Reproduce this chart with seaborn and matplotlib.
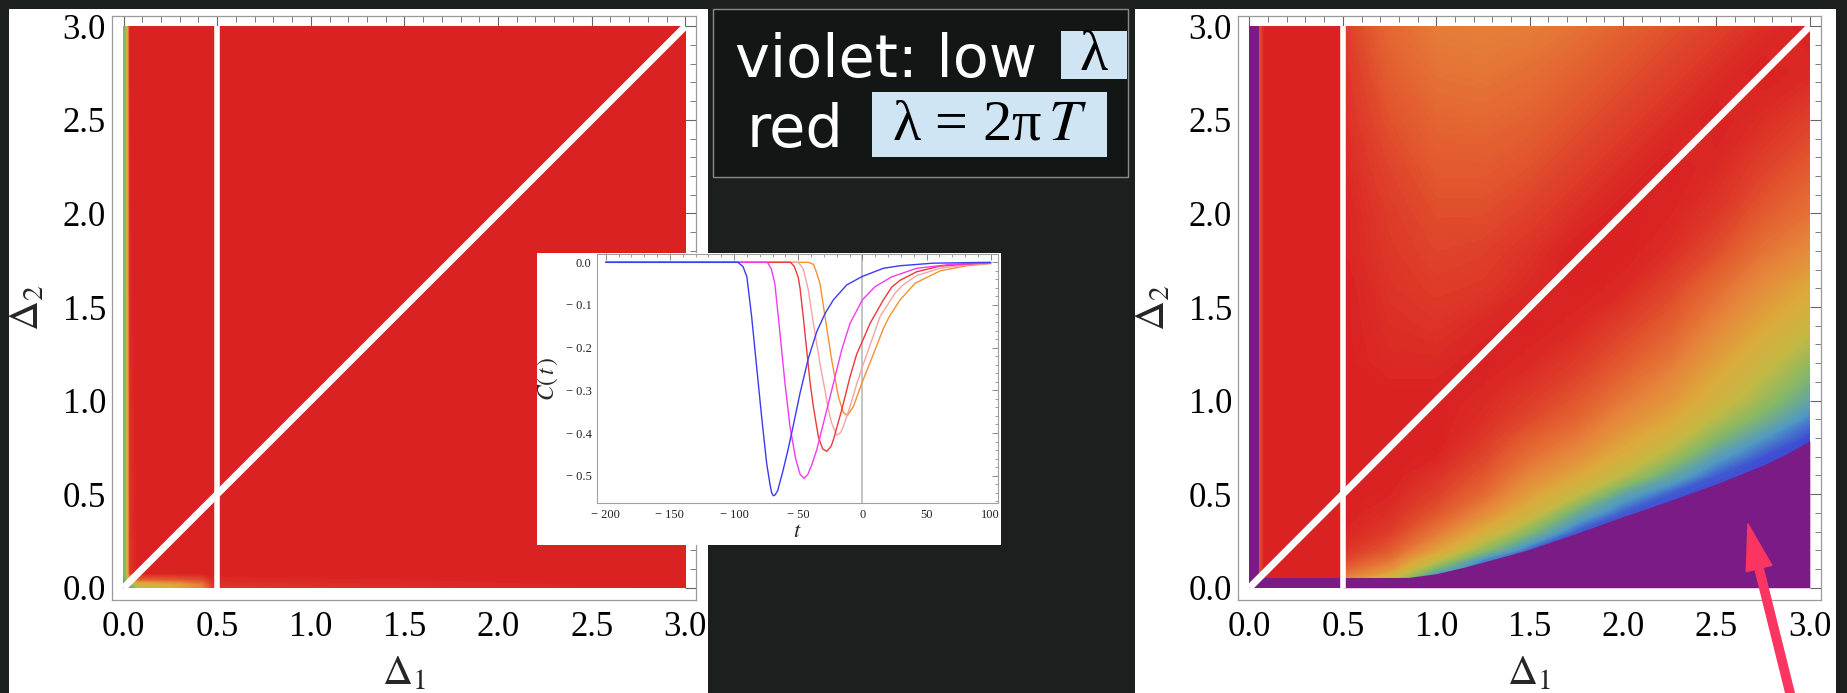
import numpy as np
import pandas as pd
import matplotlib
matplotlib.use("Agg")
import matplotlib.pyplot as plt
import matplotlib.transforms as mtransforms
import seaborn as sns
from matplotlib.colors import LinearSegmentedColormap, Normalize
from matplotlib.patches import Rectangle, FancyArrowPatch, ArrowStyle
from matplotlib.ticker import MultipleLocator, FormatStrFormatter, FixedLocator, FixedFormatter

# ------------------------------------------------------------------ data
axis_range = [0.0, 3.0]
diag_x = [0.0, 3.0]
diag_y = [0.0, 3.0]
vline_x = [0.5, 0.5]
vline_y = [0.0, 3.0]

# colour scale (value -> colour), value 1 = red (lambda = 2 pi T), low = violet/blue
scale_values = [-0.1, 0.0, 0.12, 0.3, 0.45, 0.6, 0.75, 0.88, 1.0]
scale_colors = ["#7b1c86", "#3c46d4", "#4f98c4", "#86b865", "#c2b944",
                "#dcaa3b", "#e6843a", "#e2572e", "#da2223"]

# left panel field (almost everywhere red)
left_x = [0.0, 0.014, 0.035, 0.08, 0.15, 0.3, 0.42, 0.48, 3.0]
left_y = [0.0, 0.02, 0.045, 0.08, 3.0]
left_v = [
    [-0.05, 0.00, 0.10, 0.45, 0.50, 0.62, 0.75, 0.95, 1.0],
    [0.00, 0.10, 0.30, 0.50, 0.55, 0.65, 0.78, 0.96, 1.0],
    [0.15, 0.30, 0.70, 0.85, 0.85, 0.88, 0.90, 0.98, 1.0],
    [0.28, 0.32, 0.95, 1.00, 1.00, 1.00, 1.00, 1.00, 1.0],
    [0.28, 0.32, 1.00, 1.00, 1.00, 1.00, 1.00, 1.00, 1.0],
]

# right panel field, region right of the Delta_1 = 0.5 line
right_x = [0.5, 0.75, 1.0, 1.25, 1.5, 1.75, 2.0, 2.25, 2.5, 2.75, 3.0]
right_y = [0.05, 0.1, 0.15, 0.2, 0.3, 0.4, 0.5, 0.6, 0.7, 0.8, 0.9, 1.0,
           1.2, 1.4, 1.6, 1.8, 2.0, 2.25, 2.5, 2.75, 3.0]
right_v = [
    [0.75, 0.50, 0.00, 0.00, 0.00, 0.00, 0.00, 0.00, 0.00, 0.00, 0.00],
    [0.85, 0.70, 0.25, 0.00, 0.00, 0.00, 0.00, 0.00, 0.00, 0.00, 0.00],
    [0.92, 0.80, 0.47, 0.10, 0.00, 0.00, 0.00, 0.00, 0.00, 0.00, 0.00],
    [0.96, 0.87, 0.64, 0.32, 0.03, 0.00, 0.00, 0.00, 0.00, 0.00, 0.00],
    [0.99, 0.94, 0.79, 0.58, 0.30, 0.03, 0.00, 0.00, 0.00, 0.00, 0.00],
    [1.00, 0.97, 0.88, 0.73, 0.53, 0.22, 0.03, 0.00, 0.00, 0.00, 0.00],
    [1.00, 0.99, 0.93, 0.83, 0.65, 0.46, 0.18, 0.03, 0.00, 0.00, 0.00],
    [1.00, 1.00, 0.96, 0.88, 0.74, 0.61, 0.43, 0.20, 0.03, 0.00, 0.00],
    [1.00, 1.00, 0.99, 0.92, 0.81, 0.71, 0.56, 0.38, 0.15, 0.02, 0.00],
    [1.00, 1.00, 1.00, 0.95, 0.86, 0.78, 0.65, 0.51, 0.29, 0.12, 0.00],
    [1.00, 1.00, 1.00, 0.97, 0.91, 0.84, 0.72, 0.61, 0.42, 0.25, 0.08],
    [1.00, 1.00, 1.00, 0.98, 0.94, 0.88, 0.78, 0.68, 0.52, 0.35, 0.18],
    [1.00, 0.98, 0.98, 1.00, 0.98, 0.94, 0.87, 0.78, 0.64, 0.49, 0.33],
    [1.00, 0.97, 0.96, 0.98, 1.00, 0.98, 0.93, 0.86, 0.74, 0.61, 0.48],
    [1.00, 0.96, 0.94, 0.95, 0.98, 1.00, 0.98, 0.92, 0.82, 0.71, 0.60],
    [0.99, 0.95, 0.92, 0.93, 0.96, 1.00, 1.00, 0.97, 0.90, 0.80, 0.72],
    [0.99, 0.94, 0.90, 0.90, 0.93, 0.97, 1.00, 0.99, 0.95, 0.87, 0.80],
    [0.98, 0.92, 0.87, 0.87, 0.89, 0.93, 0.97, 1.00, 0.98, 0.93, 0.87],
    [0.97, 0.89, 0.84, 0.83, 0.85, 0.89, 0.93, 0.97, 1.00, 0.97, 0.93],
    [0.96, 0.86, 0.80, 0.79, 0.81, 0.85, 0.89, 0.93, 0.97, 1.00, 0.98],
    [0.94, 0.83, 0.77, 0.76, 0.77, 0.80, 0.85, 0.89, 0.93, 0.97, 1.00],
]
# right panel red strip 0.05 < Delta_1 < 0.5
strip_x = [0.05, 0.08, 0.5]
strip_y = [0.053, 3.0]
strip_v = [[0.88, 1.0, 1.0],
           [0.88, 1.0, 1.0]]
# violet (low lambda) regions of the right panel
violet_strip_x = [0.0, 0.05]
violet_band_x = [0.0, 3.0]
violet_band_top = [0.053, 0.053]
boundary_x = [0.5, 0.85, 1.0, 1.15, 1.3, 1.5, 1.75, 2.0, 2.25, 2.5, 2.75, 2.875, 3.0]
boundary_y = [0.053, 0.055, 0.075, 0.11, 0.15, 0.205, 0.29, 0.38, 0.465, 0.555, 0.655, 0.715, 0.785]

# inset: C(t) curves
blue_t = [-200, -97, -93, -90, -86.3, -82.4, -78.5, -74.6, -72, -70.7, -69.4, -68, -66,
          -62, -58, -54.3, -48.6, -42.1, -35.6, -29.1, -22.6, -12.2, 0, 16.4, 29.4, 55, 100]
blue_c = [0, 0, -0.01, -0.034, -0.127, -0.245, -0.362, -0.471, -0.52, -0.54, -0.547, -0.545, -0.535,
          -0.49, -0.44, -0.389, -0.307, -0.225, -0.163, -0.12, -0.088, -0.053, -0.033, -0.014, -0.008, -0.002, 0.0]
magenta_t = [-200, -74, -71, -68.2, -64.2, -60.3, -56.4, -52, -48.5, -45.5, -42.5, -39.5,
             -35.6, -29.1, -22.6, -16.1, -9.6, 0, 9.9, 22.9, 42.4, 68.4, 100]
magenta_c = [0, 0, -0.015, -0.05, -0.166, -0.284, -0.385, -0.46, -0.497, -0.506, -0.497, -0.475,
             -0.44, -0.362, -0.284, -0.205, -0.143, -0.088, -0.057, -0.034, -0.014, -0.005, -0.001]
red_t = [-200, -56, -53, -50, -48.6, -46, -43.4, -40.8, -38.2, -34.3, -31, -27.8, -24.5, -22.6,
         -16.1, -9.6, -4.4, 0, 6, 16.4, 22.9, 29.4, 42.4, 60.6, 81.4, 100]
red_c = [0, 0, -0.01, -0.035, -0.06, -0.13, -0.205, -0.28, -0.338, -0.409, -0.437, -0.443, -0.432, -0.416,
         -0.346, -0.268, -0.215, -0.185, -0.143, -0.088, -0.058, -0.042, -0.022, -0.009, -0.004, -0.001]
pink_t = [-200, -50, -46, -42.1, -38.9, -35.6, -32.3, -29.1, -26.5, -23.9, -20, -17, -14.8,
          -9.6, -4.4, 0, 4.7, 13.8, 25.5, 32, 42.4, 60.6, 81.4, 100]
pink_c = [0, 0, -0.015, -0.065, -0.13, -0.19, -0.25, -0.3, -0.345, -0.377, -0.405, -0.399, -0.385,
          -0.338, -0.285, -0.245, -0.205, -0.127, -0.072, -0.052, -0.031, -0.014, -0.006, -0.002]
orange_t = [-200, -42, -38, -35.6, -33, -29.1, -23.9, -18.7, -14.8, -11.7, -7, 0, 6, 9.9,
            16.4, 21, 29.4, 41.1, 60.6, 81.4, 100]
orange_c = [0, 0, -0.005, -0.025, -0.05, -0.127, -0.229, -0.315, -0.352, -0.359, -0.338, -0.28, -0.235, -0.205,
            -0.155, -0.127, -0.088, -0.049, -0.02, -0.008, -0.003]
curve_names = ["blue", "magenta", "red", "pink", "orange"]
curve_colors = ["#3b3bf2", "#f23bf2", "#f03838", "#f5a3a3", "#f79030"]

inset_xticks = [-200, -150, -100, -50, 0, 50, 100]
inset_xticklabels = ["\u2212 200", "\u2212 150", "\u2212 100", "\u2212 50", "0", "50", "100"]
inset_yticks = [0.0, -0.1, -0.2, -0.3, -0.4, -0.5]
inset_yticklabels = ["0.0", "\u2212 0.1", "\u2212 0.2", "\u2212 0.3", "\u2212 0.4", "\u2212 0.5"]

# ------------------------------------------------------------------ style
sns.set_theme(style="white")
plt.rcParams["font.family"] = ["Liberation Serif", "DejaVu Serif"]
plt.rcParams["mathtext.fontset"] = "stix"

W, H = 1847, 693
BG = "#1b201f"
fig = plt.figure(figsize=(W / 100, H / 100), dpi=100, facecolor=BG)
tpx = mtransforms.Affine2D().scale(1, -1).translate(0, H)  # pixel coords, origin top-left


def fig_rect(x0, y0, x1, y1, **kw):
    r = Rectangle((x0, y0), x1 - x0, y1 - y0, transform=tpx, **kw)
    fig.add_artist(r)
    return r


def axes_box(x0, y0, x1, y1):
    return [x0 / W, 1 - y1 / H, (x1 - x0) / W, (y1 - y0) / H]


# white panels
fig_rect(9, 9, 708, 700, facecolor="white", edgecolor="none", zorder=-1)
fig_rect(1135, 9, 1836, 700, facecolor="white", edgecolor="none", zorder=-1)
# darker interior of the caption box
fig_rect(712.7, 9.3, 1128, 177, facecolor="#121615", edgecolor="none", zorder=-1)

cmap = LinearSegmentedColormap.from_list(
    "lam", [((v - scale_values[0]) / (scale_values[-1] - scale_values[0]), c)
            for v, c in zip(scale_values, scale_colors)])
norm = Normalize(vmin=scale_values[0], vmax=scale_values[-1])
levels = np.linspace(scale_values[0] - 0.001, scale_values[-1] + 0.001, 180)
VIOLET = scale_colors[0]


def style_main(ax):
    ax.set_xlim(-0.064, 3.06)
    ax.set_ylim(-0.064, 3.058)
    for axis in (ax.xaxis, ax.yaxis):
        axis.set_major_locator(MultipleLocator(0.5))
        axis.set_minor_locator(MultipleLocator(0.1))
        axis.set_major_formatter(FormatStrFormatter("%.1f"))
    ax.tick_params(which="both", direction="in", top=True, right=True,
                   color="#666666", labelsize=25, labelcolor="black")
    ax.tick_params(which="major", length=8, width=0.8)
    ax.tick_params(which="minor", length=4, width=0.6)
    ax.tick_params(axis="x", which="both", pad=8)
    ax.tick_params(axis="y", which="both", pad=4)
    for s in ax.spines.values():
        s.set_color("#9a9a9a")
        s.set_linewidth(0.9)
    ax.set_facecolor("white")
    ax.set_xlabel(r"$\Delta_1$", fontsize=30, labelpad=8)
    ax.set_ylabel(r"$\Delta_2$", fontsize=30, labelpad=11)
    ax.grid(False)


def guide_lines(ax):
    ax.plot(diag_x, diag_y, color="white", lw=5, solid_capstyle="butt", zorder=5)
    ax.plot(vline_x, vline_y, color="white", lw=4, solid_capstyle="butt", zorder=5)


# ---------------- left panel
axL = fig.add_axes(axes_box(111.6, 15.5, 696.5, 599.7), zorder=1)
axL.contourf(left_x, left_y, np.array(left_v), levels=levels, cmap=cmap, norm=norm,
             antialiased=False, zorder=1)
guide_lines(axL)
style_main(axL)

# ---------------- right panel
axR = fig.add_axes(axes_box(1237.5, 15.5, 1821, 599.7), zorder=1)
axR.contourf(right_x, right_y, np.array(right_v), levels=levels, cmap=cmap, norm=norm,
             antialiased=False, zorder=1)
axR.contourf(strip_x, strip_y, np.array(strip_v), levels=levels, cmap=cmap, norm=norm,
             antialiased=False, zorder=1)
axR.fill_between(violet_strip_x, axis_range[0], axis_range[1], color=VIOLET, lw=0, zorder=2)
axR.fill_between(violet_band_x, axis_range[0], violet_band_top, color=VIOLET, lw=0, zorder=2)
axR.fill_between(boundary_x, axis_range[0], boundary_y, color=VIOLET, lw=0, zorder=2)
guide_lines(axR)
style_main(axR)

# ---------------- inset
fig_rect(536.7, 253, 1000.7, 545, facecolor="white", edgecolor="none", zorder=2)
axI = fig.add_axes(axes_box(597, 254, 998, 503), zorder=3)
frames = []
for name, tt, cc in zip(curve_names,
                        [blue_t, magenta_t, red_t, pink_t, orange_t],
                        [blue_c, magenta_c, red_c, pink_c, orange_c]):
    frames.append(pd.DataFrame({"t": tt, "C": cc, "curve": name}))
df = pd.concat(frames, ignore_index=True)
axI.axvline(0, color="#c4c4c4", lw=1.4, zorder=0)
sns.lineplot(data=df, x="t", y="C", hue="curve", hue_order=curve_names[::-1],
             palette=dict(zip(curve_names, curve_colors)), estimator=None, sort=False,
             linewidth=1.0, legend=False, ax=axI)
axI.set_xlim(-206.8, 105.7)
axI.set_ylim(-0.564, 0.0195)
axI.xaxis.set_major_locator(FixedLocator(inset_xticks))
axI.xaxis.set_major_formatter(FixedFormatter(inset_xticklabels))
axI.yaxis.set_major_locator(FixedLocator(inset_yticks))
axI.yaxis.set_major_formatter(FixedFormatter(inset_yticklabels))
axI.xaxis.set_minor_locator(MultipleLocator(10))
axI.yaxis.set_minor_locator(MultipleLocator(0.02))
axI.tick_params(which="both", direction="in", top=True, right=True, color="#777777",
                labelsize=9, labelcolor="#222222", pad=4)
axI.tick_params(which="major", length=4, width=0.6)
axI.tick_params(which="minor", length=2, width=0.5)
for s in axI.spines.values():
    s.set_color("#a0a0a0")
    s.set_linewidth(0.8)
axI.set_facecolor("white")
axI.set_xlabel(r"$t$", fontsize=16, labelpad=2)
axI.set_ylabel(r"$C(\,t\,)$", fontsize=17, labelpad=4)
axI.grid(False)

# ---------------- legend-like text box
fig_rect(712.7, 9.3, 1128, 177, facecolor="none", edgecolor="#8a8a8a", lw=1.0, zorder=4)
fig_rect(1061, 31, 1127, 79, facecolor="#cfe5f4", edgecolor="none", zorder=4)
fig_rect(872, 92, 1107, 157, facecolor="#cfe5f4", edgecolor="none", zorder=4)
fig.text(735, 77, "violet: low", transform=tpx, fontsize=42.5, color="white",
         family="DejaVu Sans", ha="left", va="baseline", zorder=5)
fig.text(747, 147, "red", transform=tpx, fontsize=42.5, color="white",
         family="DejaVu Sans", ha="left", va="baseline", zorder=5)
fig.text(1094, 70, "\u03bb", transform=tpx, fontsize=42, color="black",
         ha="center", va="baseline", zorder=5)
fig.text(989.5, 139, "\u03bb = 2\u03c0$\\,T$", transform=tpx, fontsize=42, color="black",
         ha="center", va="baseline", zorder=5)

# ---------------- arrow
arrow = FancyArrowPatch(posA=(1792, -8), posB=(1748, H - 524),
                        arrowstyle=ArrowStyle.Simple(head_length=33, head_width=19, tail_width=6),
                        mutation_scale=1, shrinkA=0, shrinkB=0, color="#fb3561",
                        transform=mtransforms.IdentityTransform(), zorder=6)
fig.add_artist(arrow)

fig.savefig("out.png", dpi=100, facecolor=BG)
